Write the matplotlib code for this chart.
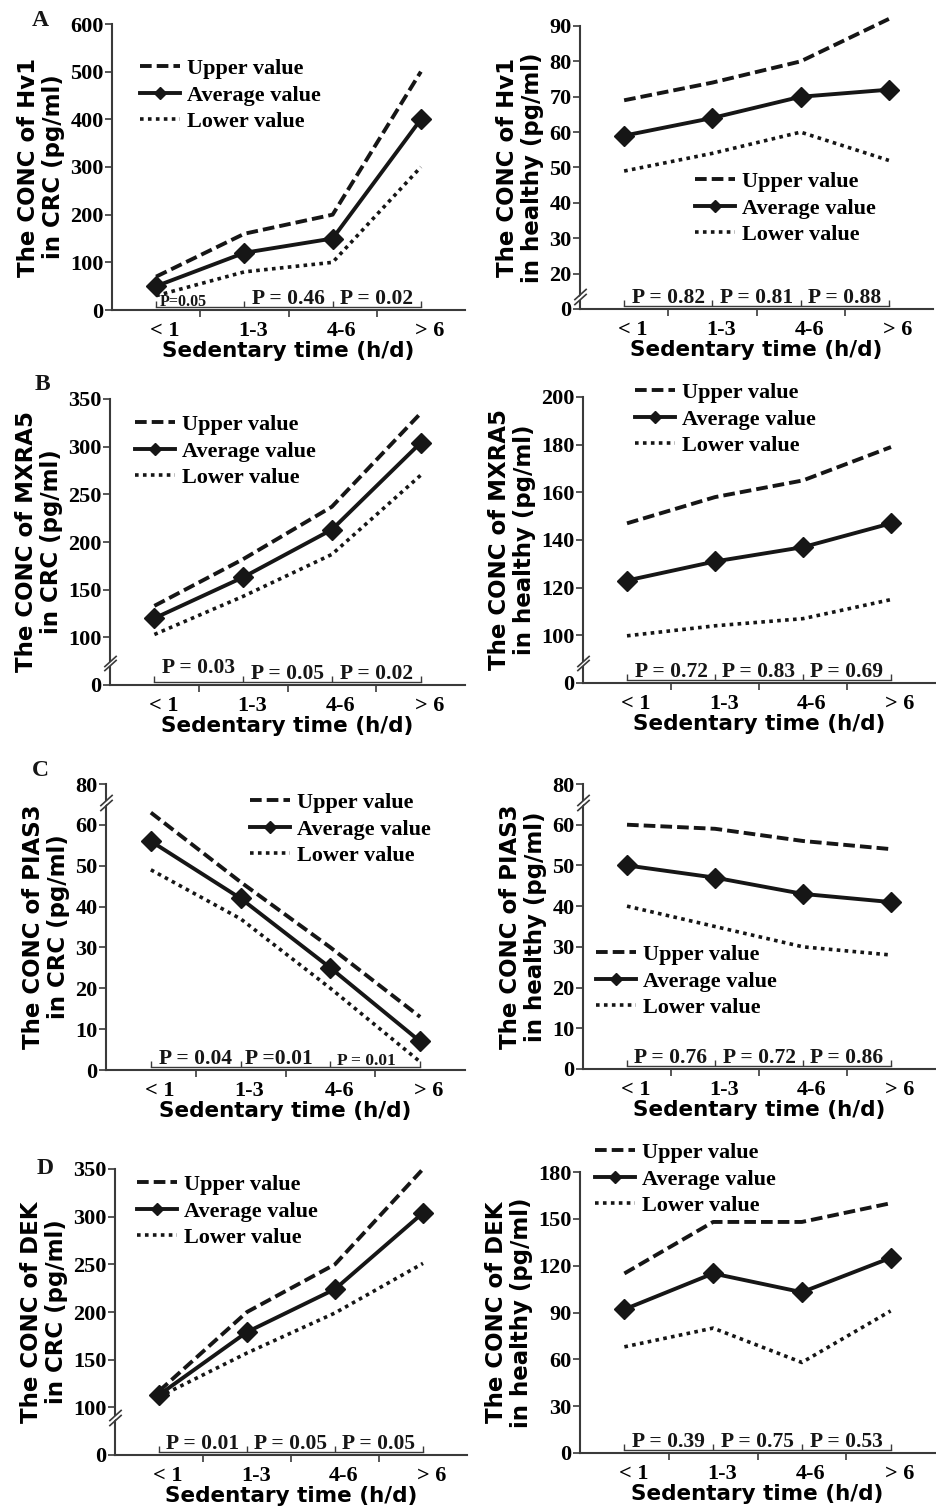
# four rows of sedentary-time panels (CRC vs healthy), Excel-style with fake axis breaks
import numpy as np
import matplotlib
matplotlib.use("Agg")
import matplotlib.pyplot as plt
from matplotlib.path import Path
from matplotlib.transforms import offset_copy, ScaledTranslation

plt.rcParams['font.family'] = 'Liberation Serif'
plt.rcParams['font.weight'] = 'bold'

W, H = 936, 1508
INK = '#161616'
AXC = '#3a3a3a'

categories = ['< 1', '1-3', '4-6', '> 6']
series_names = ['Upper value', 'Average value', 'Lower value']
xlabel = 'Sedentary time (h/d)'

# A: Hv1
hv1_crc_upper = [70, 160, 200, 500]
hv1_crc_avg = [50, 120, 150, 400]
hv1_crc_lower = [30, 80, 100, 300]
hv1_crc_p = ['P=0.05', 'P = 0.46', 'P = 0.02']
hv1_crc_yticks = [0, 100, 200, 300, 400, 500, 600]

hv1_hea_upper = [69, 74, 80, 92]
hv1_hea_avg = [59, 64, 70, 72]
hv1_hea_lower = [49, 54, 60, 52]
hv1_hea_p = ['P = 0.82', 'P = 0.81', 'P = 0.88']
hv1_hea_yticks = [0, 20, 30, 40, 50, 60, 70, 80, 90]

# B: MXRA5
mxra5_crc_upper = [133, 182, 237, 335]
mxra5_crc_avg = [120, 163, 213, 304]
mxra5_crc_lower = [103, 143, 187, 270]
mxra5_crc_p = ['P = 0.03', 'P = 0.05', 'P = 0.02']
mxra5_crc_yticks = [0, 100, 150, 200, 250, 300, 350]

mxra5_hea_upper = [147, 158, 165, 179]
mxra5_hea_avg = [123, 131, 137, 147]
mxra5_hea_lower = [99, 104, 107, 115]
mxra5_hea_p = ['P = 0.72', 'P = 0.83', 'P = 0.69']
mxra5_hea_yticks = [0, 100, 120, 140, 160, 180, 200]

# C: PIAS3
pias3_crc_upper = [63, 46, 30, 13]
pias3_crc_avg = [56, 42, 25, 7]
pias3_crc_lower = [49, 37, 20, 2]
pias3_crc_p = ['P = 0.04', 'P =0.01', 'P = 0.01']
pias3_crc_yticks = [0, 10, 20, 30, 40, 50, 60, 80]

pias3_hea_upper = [60, 59, 56, 54]
pias3_hea_avg = [50, 47, 43, 41]
pias3_hea_lower = [40, 35, 30, 28]
pias3_hea_p = ['P = 0.76', 'P = 0.72', 'P = 0.86']
pias3_hea_yticks = [0, 10, 20, 30, 40, 50, 60, 80]

# D: DEK
dek_crc_upper = [117, 200, 250, 350]
dek_crc_avg = [113, 179, 224, 304]
dek_crc_lower = [111, 157, 199, 251]
dek_crc_p = ['P = 0.01', 'P = 0.05', 'P = 0.05']
dek_crc_yticks = [0, 100, 150, 200, 250, 300, 350]

dek_hea_upper = [115, 148, 148, 160]
dek_hea_avg = [92, 115, 103, 125]
dek_hea_lower = [68, 80, 58, 91]
dek_hea_p = ['P = 0.39', 'P = 0.75', 'P = 0.53']
dek_hea_yticks = [0, 30, 60, 90, 120, 150, 180]

PFS = 15.5
P_STD = [(0.5, PFS, 0), (1.5, PFS, 0), (2.5, PFS, 0)]

# box = (x_left, x_right, y_top, y_bottom) in pixels
panels = [
    dict(box=(112, 465, 24, 310), series=(hv1_crc_upper, hv1_crc_avg, hv1_crc_lower),
         yticks=hv1_crc_yticks, knots=[(0, 0), (600, 600)], brk=None,
         ylabel='The CONC of Hv1\nin CRC (pg/ml)', p=hv1_crc_p,
         p_layout=[(0.31, 11.5, -2), (1.5, PFS, 0), (2.5, PFS, 0)],
         legend=(140, 69), letter=('A', 40, 20)),
    dict(box=(580, 933, 26, 309), series=(hv1_hea_upper, hv1_hea_avg, hv1_hea_lower),
         yticks=hv1_hea_yticks, knots=[(0, 0), (20, 10), (90, 80)], brk=7,
         ylabel='The CONC of Hv1\nin healthy (pg/ml)', p=hv1_hea_p, p_layout=P_STD,
         legend=(695, 182), letter=None),
    dict(box=(110, 465, 399, 685), series=(mxra5_crc_upper, mxra5_crc_avg, mxra5_crc_lower),
         yticks=mxra5_crc_yticks, knots=[(0, 0), (100, 50), (350, 300)], brk=46,
         ylabel='The CONC of MXRA5\nin CRC (pg/ml)', p=mxra5_crc_p,
         p_layout=[(0.5, PFS, 6), (1.5, PFS, 0), (2.5, PFS, 0)],
         legend=(135, 425), letter=('B', 42, 385)),
    dict(box=(583, 935, 397, 683), series=(mxra5_hea_upper, mxra5_hea_avg, mxra5_hea_lower),
         yticks=mxra5_hea_yticks, knots=[(0, 0), (100, 20), (200, 120)], brk=42,
         ylabel='The CONC of MXRA5\nin healthy (pg/ml)', p=mxra5_hea_p, p_layout=P_STD,
         legend=(635, 393), letter=None),
    dict(box=(106, 465, 784, 1070), series=(pias3_crc_upper, pias3_crc_avg, pias3_crc_lower),
         yticks=pias3_crc_yticks, knots=[(0, 0), (65, 65), (80, 70)], brk=66.5,
         ylabel='The CONC of PIAS3\nin CRC (pg/ml)', p=pias3_crc_p,
         p_layout=[(0.5, PFS, 0), (1.43, PFS, 0), (2.4, 12.5, -1)],
         legend=(250, 803), letter=('C', 40, 770)),
    dict(box=(583, 935, 784, 1069), series=(pias3_hea_upper, pias3_hea_avg, pias3_hea_lower),
         yticks=pias3_hea_yticks, knots=[(0, 0), (65, 65), (80, 70)], brk=66.5,
         ylabel='The CONC of PIAS3\nin healthy (pg/ml)', p=pias3_hea_p, p_layout=P_STD,
         legend=(596, 955), letter=None),
    dict(box=(115, 467, 1169, 1455), series=(dek_crc_upper, dek_crc_avg, dek_crc_lower),
         yticks=dek_crc_yticks, knots=[(0, 0), (100, 50), (350, 300)], brk=79,
         ylabel='The CONC of DEK\nin CRC (pg/ml)', p=dek_crc_p, p_layout=P_STD,
         legend=(137, 1185), letter=('D', 45, 1168)),
    dict(box=(580, 935, 1172, 1453), series=(dek_hea_upper, dek_hea_avg, dek_hea_lower),
         yticks=dek_hea_yticks, knots=[(0, 0), (180, 180)], brk=None,
         ylabel='The CONC of DEK\nin healthy (pg/ml)', p=dek_hea_p, p_layout=P_STD,
         legend=(595, 1153), letter=None),
]


def piecewise(knots):
    xs = np.array([k[0] for k in knots], float)
    ys = np.array([k[1] for k in knots], float)
    s0 = (ys[1] - ys[0]) / (xs[1] - xs[0])
    s1 = (ys[-1] - ys[-2]) / (xs[-1] - xs[-2])
    big = 1e5
    xe = np.concatenate([[xs[0] - big], xs, [xs[-1] + big]])
    ye = np.concatenate([[ys[0] - big * s0], ys, [ys[-1] + big * s1]])
    return (lambda v: np.interp(v, xe, ye)), (lambda p: np.interp(p, ye, xe))


SLASH = Path([(-1, -0.9), (1, 0.9)])
GAP = Path([(-1, -1.25), (1, 0.55), (1, 1.25), (-1, -0.55), (-1, -1.25)], closed=True)


def axis_break(fig, ax, yb):
    tr = ax.get_yaxis_transform()
    ax.plot([0], [yb], marker=GAP, ms=9, mfc='white', mec='white', mew=0,
            transform=tr, clip_on=False, zorder=5)
    for dy in (-1.6, 1.6):
        ax.plot([0], [yb], marker=SLASH, ms=9, mec=AXC, mew=1.2,
                transform=offset_copy(tr, fig=fig, y=dy, units='points'),
                clip_on=False, zorder=6)


fig = plt.figure(figsize=(W / 100, H / 100), dpi=100)
x = np.arange(len(categories))

for pn in panels:
    x0, x1, yt, yb = pn['box']
    ax = fig.add_axes([x0 / W, 1 - yb / H, (x1 - x0) / W, (yb - yt) / H])
    fwd, inv = piecewise(pn['knots'])
    ax.set_yscale('function', functions=(fwd, inv))

    up, av, lo = pn['series']
    l1, = ax.plot(x, up, color=INK, lw=2.8, ls=(0, (3, 1.3)), clip_on=False)
    l2, = ax.plot(x, av, color=INK, lw=2.8, marker='D', ms=10, clip_on=False)
    l3, = ax.plot(x, lo, color=INK, lw=2.6, ls=(0, (1, 1.2)), clip_on=False)

    ax.set_xlim(-0.5, 3.5)
    ax.set_ylim(0, pn['yticks'][-1])
    ax.set_yticks(pn['yticks'])
    ax.yaxis.set_minor_locator(plt.NullLocator())
    ax.set_xticks(x, categories)
    ax.set_xticks([0.5, 1.5, 2.5], minor=True)
    ax.tick_params(axis='x', which='major', length=0, pad=8, labelsize=16)
    ax.tick_params(axis='x', which='minor', length=5, width=1.2, direction='out', color=AXC)
    ax.tick_params(axis='y', length=5, width=1.2, direction='out', color=AXC, pad=1,
                   labelsize=16)
    shift = ScaledTranslation(9 / 100, 0, fig.dpi_scale_trans)
    for lab in ax.get_xticklabels():
        lab.set_transform(lab.get_transform() + shift)
    for s in ('top', 'right'):
        ax.spines[s].set_visible(False)
    for s in ('left', 'bottom'):
        ax.spines[s].set_color(AXC)
        ax.spines[s].set_linewidth(1.5)

    ax.set_xlabel(xlabel, family='DejaVu Sans', fontweight='bold', fontsize=15.5, labelpad=0)
    ax.set_ylabel(pn['ylabel'], family='DejaVu Sans', fontweight='bold', fontsize=16.5,
                  linespacing=1.08, labelpad=4)

    if pn['brk'] is not None:
        axis_break(fig, ax, pn['brk'])

    # p-value bracket just above the x axis
    xt = ax.get_xaxis_transform()
    btr = offset_copy(xt, fig=fig, y=3, units='dots')
    ax.plot([x[0], x[-1]], [0, 0], color=AXC, lw=1.0, transform=btr, clip_on=False, zorder=4)
    ax.plot(x, np.zeros(len(x)), ls='none', marker=Path([(0, 0), (0, 1)]), ms=9,
            mec=AXC, mew=1.0, transform=btr, clip_on=False, zorder=4)
    for txt, (px, fs, dy) in zip(pn['p'], pn['p_layout']):
        ax.text(px, 0, txt, fontsize=fs, ha='center', va='baseline', color=INK,
                transform=offset_copy(xt, fig=fig, y=6 + dy, units='dots'))

    lx, ly = pn['legend']
    ax.legend([l1, l2, l3], series_names, loc='upper left',
              bbox_to_anchor=(lx / W, 1 - (ly - 10.5) / H), bbox_transform=fig.transFigure,
              frameon=False, prop=dict(family='Liberation Serif', weight='bold', size=16),
              handlelength=1.8, handletextpad=0.3, labelspacing=0.27, borderpad=0,
              borderaxespad=0, numpoints=1, markerscale=0.6)

    if pn['letter']:
        t, tx, ty = pn['letter']
        fig.text(tx / W, 1 - ty / H, t, fontsize=17, ha='center', va='center', color=INK)

fig.savefig('out.png', dpi=100)
